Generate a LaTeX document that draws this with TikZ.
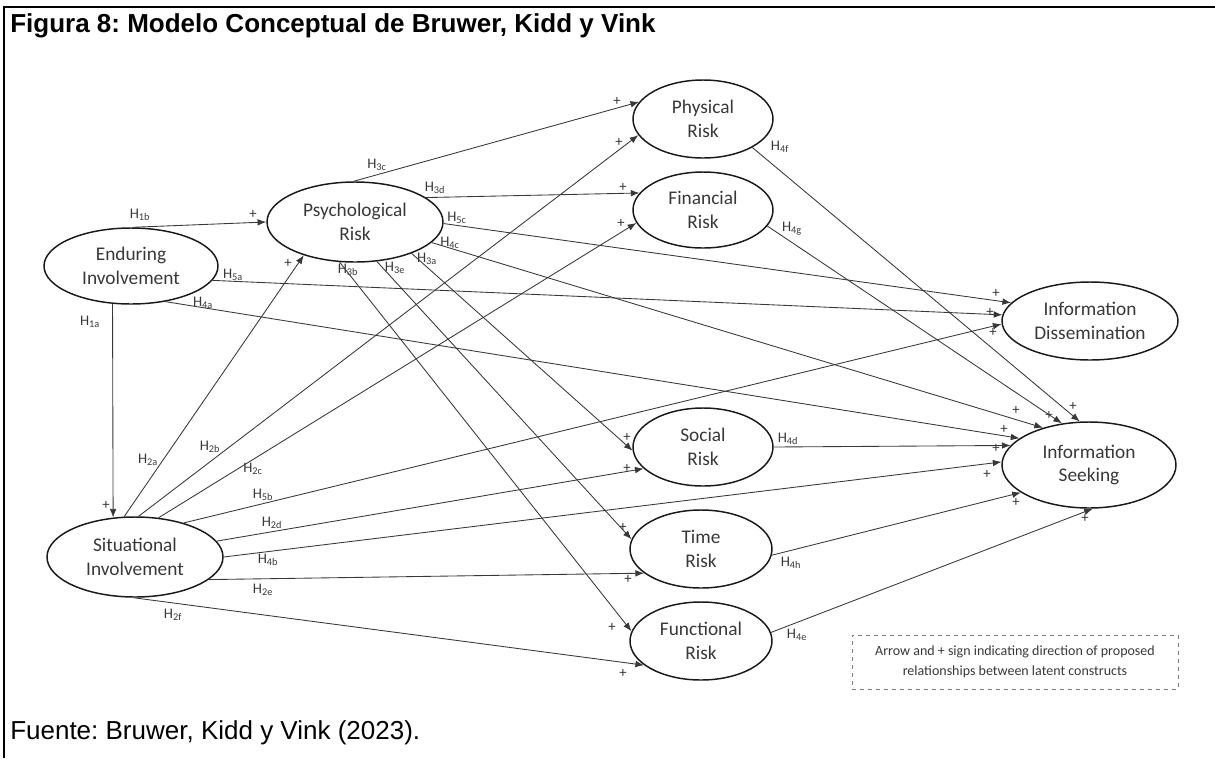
\documentclass[tikz,border=0pt]{standalone}
\usepackage{fontspec}
\setmainfont{Liberation Sans}
\newfontfamily\diag{Carlito}
\usetikzlibrary{shapes.geometric,arrows.meta}
\definecolor{ink}{HTML}{383838}
\frenchspacing
\tikzset{
  cons/.style={ellipse,draw=black!90,line width=1.1pt,inner sep=0pt,
    font=\diag\fontsize{14.5}{17.5}\selectfont,text=ink,align=center},
  sz/.style 2 args={minimum width={#1*0.75pt},minimum height={#2*0.75pt}},
  link/.style={draw=ink,line width=0.65pt,-{Latex[length=6.5pt,width=5pt]}},
  hyp/.style={font=\diag\fontsize{11}{12}\selectfont,text=ink,inner sep=0pt},
  plus/.style={font=\diag\fontsize{11}{12}\selectfont,text=ink,inner sep=0pt}
}
\begin{document}
\begin{tikzpicture}[x=0.75pt,y=-0.75pt]
\useasboundingbox (0,0) rectangle (1215,758);

% frame
\draw[line width=1.2pt] (1215,7) -- (4,7) -- (4,758);
\node[anchor=base west,inner sep=0pt,font=\bfseries\fontsize{19.5}{23}\selectfont] (title) at (10,32)
  {Figura 8: Modelo Conceptual de Bruwer, Kidd y Vink};
\node[anchor=base west,inner sep=0pt,font=\fontsize{19.5}{23}\selectfont] (src) at (10,739)
  {Fuente: Bruwer, Kidd y Vink (2023).};

% constructs
\node[cons,sz={174}{76}] (EI) at (131,266) {Enduring\\Involvement};
\node[cons,sz={176}{80}] (PR) at (355,222) {Psychological\\Risk};
\node[cons,sz={140}{78}] (PhR) at (703,119) {Physical\\Risk};
\node[cons,sz={140}{76}] (FR) at (703,210) {Financial\\Risk};
\node[cons,sz={176}{78}] (ID) at (1090,321) {Information\\Dissemination};
\node[cons,sz={174}{86}] (IS) at (1089,465) {Information\\Seeking};
\node[cons,sz={176}{80}] (SI) at (135,557) {Situational\\Involvement};
\node[cons,sz={140}{78}] (SR) at (703,447) {Social\\Risk};
\node[cons,sz={142}{78}] (TR) at (701,549) {Time\\Risk};
\node[cons,sz={142}{78}] (FuR) at (701,641) {Functional\\Risk};

% hypothesised paths
\draw[link] (EI.87) -- (PR.180);
\draw[link] (EI.244.2) -- (SI.119.6);
\draw[link] (EI.350) -- (ID.176.7);
\draw[link] (EI.314) -- (IS.159.2);
\draw[link] (SI.105.4) -- (PR.213);
\draw[link] (SI.85.7) -- (PhR.194);
\draw[link] (SI.59.2) -- (FR.191);
\draw[link] (SI.35.7) -- (ID.182.6);
\draw[link] (SI.11) -- (SR.200.6);
\draw[link] (SI.0) -- (IS.178);
\draw[link] (SI.343) -- (TR.203.2);
\draw[link] (SI.268) -- (FuR.203);
\draw[link] (PR.92) -- (PhR.165);
\draw[link] (PR.19) -- (FR.165.2);
\draw[link] (PR.359) -- (ID.167);
\draw[link] (PR.345) -- (IS.141.6);
\draw[link] (PR.331) -- (SR.183);
\draw[link] (PR.299) -- (TR.172.4);
\draw[link] (PR.249) -- (FuR.172.4);
\draw[link] (PhR.330.3) -- (IS.102);
\draw[link] (FR.346) -- (IS.123.4);
\draw[link] (SR.0) -- (IS.166);
\draw[link] (TR.355) -- (IS.202.2);
\draw[link] (FuR.7) -- (IS.275);

% hypothesis labels
\node[hyp] (h1b) at (140,215) {H\textsubscript{1b}};
\node[hyp] (h1a) at (90,322) {H\textsubscript{1a}};
\node[hyp] (h5a) at (233,275) {H\textsubscript{5a}};
\node[hyp] (h4a) at (203,303) {H\textsubscript{4a}};
\node[hyp] (h2a) at (148,460) {H\textsubscript{2a}};
\node[hyp] (h2b) at (210,447) {H\textsubscript{2b}};
\node[hyp] (h2c) at (253,469) {H\textsubscript{2c}};
\node[hyp] (h5b) at (263,495) {H\textsubscript{5b}};
\node[hyp] (h2d) at (272,523) {H\textsubscript{2d}};
\node[hyp] (h4b) at (268,560) {H\textsubscript{4b}};
\node[hyp] (h2e) at (263,590) {H\textsubscript{2e}};
\node[hyp] (h2f) at (173,615) {H\textsubscript{2f}};
\node[hyp] (h3c) at (377,165) {H\textsubscript{3c}};
\node[hyp] (h3d) at (435,188) {H\textsubscript{3d}};
\node[hyp] (h5c) at (457,218) {H\textsubscript{5c}};
\node[hyp] (h4c) at (450,243) {H\textsubscript{4c}};
\node[hyp] (h3a) at (427,259) {H\textsubscript{3a}};
\node[hyp] (h3e) at (395,268) {H\textsubscript{3e}};
\node[hyp] (h3b) at (348,270) {H\textsubscript{3b}};
\node[hyp] (h4f) at (780,147) {H\textsubscript{4f}};
\node[hyp] (h4g) at (792,229) {H\textsubscript{4g}};
\node[hyp] (h4d) at (788,439) {H\textsubscript{4d}};
\node[hyp] (h4h) at (791,563) {H\textsubscript{4h}};
\node[hyp] (h4e) at (797,635) {H\textsubscript{4e}};

% plus signs at arrow heads
\node[plus] (p1b) at (253,214) {+};
\node[plus] (p1a) at (106,505) {+};
\node[plus] (p2a) at (288,263) {+};
\node[plus] (p3c) at (617,101) {+};
\node[plus] (p2b) at (619,142) {+};
\node[plus] (p3d) at (623,187) {+};
\node[plus] (p2c) at (621,223) {+};
\node[plus] (p3a) at (627,437) {+};
\node[plus] (p2d) at (627,468) {+};
\node[plus] (p3e) at (623,527) {+};
\node[plus] (p2e) at (628,579) {+};
\node[plus] (p3b) at (612,627) {+};
\node[plus] (p2f) at (623,673) {+};
\node[plus] (p5c) at (996,293) {+};
\node[plus] (p5a) at (990,312) {+};
\node[plus] (p5b) at (993,332) {+};
\node[plus] (p4c) at (1016,410) {+};
\node[plus] (p4g) at (1049,415) {+};
\node[plus] (p4f) at (1073,406) {+};
\node[plus] (p4a) at (1004,429) {+};
\node[plus] (p4d) at (996,448) {+};
\node[plus] (p4b) at (987,474) {+};
\node[plus] (p4h) at (1016,502) {+};
\node[plus] (p4e) at (1085,518) {+};

% key
\node[draw=gray,dashed,line width=0.5pt,sz={326}{54},align=center,text=ink,
  font=\diag\fontsize{10.5}{15}\selectfont] (key) at (1015,662)
  {Arrow and + sign indicating direction of proposed\\relationships between latent constructs};
\end{tikzpicture}
\end{document}
